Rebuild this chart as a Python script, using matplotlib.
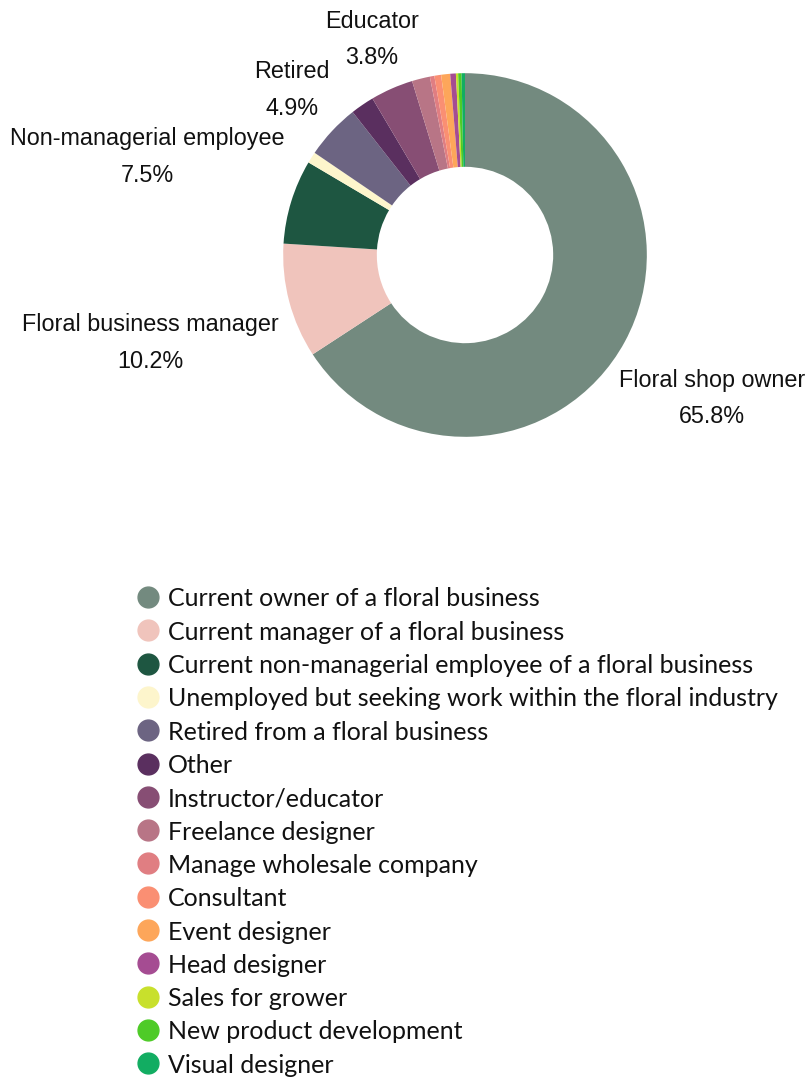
import matplotlib
matplotlib.use("Agg")
import matplotlib.pyplot as plt
from matplotlib.lines import Line2D

# Survey respondents by current role (percent), clockwise from the top
roles = [
    "Current owner of a floral business",
    "Current manager of a floral business",
    "Current non-managerial employee of a floral business",
    "Unemployed but seeking work within the floral industry",
    "Retired from a floral business",
    "Other",
    "Instructor/educator",
    "Freelance designer",
    "Manage wholesale company",
    "Consultant",
    "Event designer",
    "Head designer",
    "Sales for grower",
    "New product development",
    "Visual designer",
]
shares = [65.8, 10.2, 7.5, 1.0, 4.9, 2.1, 3.8, 1.6, 0.4, 0.6, 0.8, 0.5, 0.2, 0.3, 0.3]
colors = [
    "#738a7f", "#f0c4bc", "#1e5641", "#fdf5cc", "#6c6482",
    "#5a2f5f", "#874e74", "#b87586", "#e07e82", "#fa8f73",
    "#fda65a", "#a54c92", "#c8e02c", "#4ecb27", "#12ad62",
]

# Callout labels for the larger slices
callouts = {
    0: "Floral shop owner",
    1: "Floral business manager",
    2: "Non-managerial employee",
    4: "Retired",
    6: "Educator",
}
callout_pos = {
    0: (1.359, -0.790),
    1: (-1.733, -0.484),
    2: (-1.747, 0.539),
    4: (-0.952, 0.908),
    6: (-0.511, 1.185),
}

W, H = 810, 1078
fig = plt.figure(figsize=(W / 100, H / 100), dpi=100)

# Donut axes: centre at (465, 255) px, radius ~182 px
cx, cy, half = 465, 255, 200
ax = fig.add_axes([(cx - half) / W, (H - cy - half) / H, 2 * half / W, 2 * half / H])
ax.pie(shares, colors=colors, startangle=90, counterclock=False,
       radius=1.0, wedgeprops=dict(width=0.515, linewidth=0))
ax.set_xlim(-1.1, 1.1)
ax.set_ylim(-1.1, 1.1)
ax.set_aspect("equal")
ax.axis("off")

label_font = ["Liberation Sans", "DejaVu Sans"]
for idx, name in callouts.items():
    x, y = callout_pos[idx]
    ax.text(x, y, f"{name}\n{shares[idx]:.1f}%", ha="center", va="center",
            fontsize=16.8, family=label_font, color="#111111",
            linespacing=1.75, clip_on=False)

# Legend drawn as a column of coloured dots with labels
legend_font = ["Lato", "DejaVu Sans"]
y0, step = 597, 33.3
for i, (lab, col) in enumerate(zip(roles, colors)):
    ypx = y0 + i * step
    yf = 1 - ypx / H
    fig.add_artist(Line2D([148 / W], [yf], marker="o", markersize=15,
                          markerfacecolor=col, markeredgecolor=col,
                          linestyle="none", transform=fig.transFigure))
    fig.text(168 / W, yf, lab, ha="left", va="center_baseline",
             fontsize=18, family=legend_font, color="#111111")

fig.savefig("out.png", dpi=100, facecolor="white")
